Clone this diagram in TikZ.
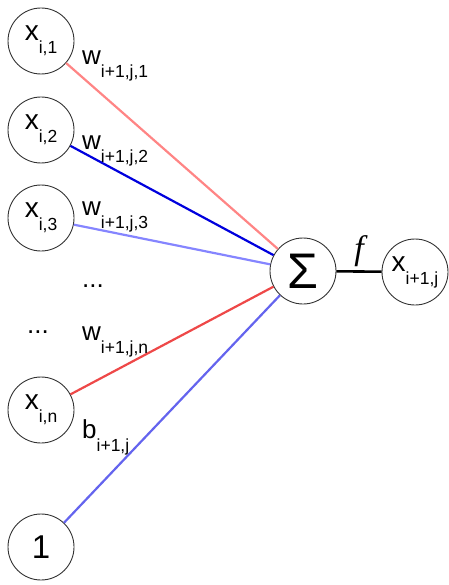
\documentclass[tikz,border=0pt]{standalone}
\usepackage{fontspec}
\setmainfont{Liberation Sans}
\newfontfamily\actfont{Liberation Serif}
\definecolor{wone}{HTML}{FF8585}
\definecolor{wtwo}{HTML}{0000DD}
\definecolor{wthree}{HTML}{8585FF}
\definecolor{wlast}{HTML}{EE4848}
\definecolor{wbias}{HTML}{6464EE}
\newcommand{\lowsub}[1]{\raisebox{-13pt}{\fontsize{17.5}{20}\selectfont #1}}
\begin{document}
\begin{tikzpicture}[x=1pt,y=-1pt,
    neuron/.style={circle,draw=black!80,line width=0.9pt,minimum size=66pt,inner sep=0pt,font=\fontsize{28}{32}\selectfont},
    wlabel/.style={anchor=base west,inner sep=0pt,font=\fontsize{26}{30}\selectfont},
    link/.style={line width=2.2pt}]
    \useasboundingbox (0,0) rectangle (448,585);
    % input column, bias at the bottom
    \node[neuron] (x1) at (41,41) {x\lowsub{i,1}};
    \node[neuron] (x2) at (41,130) {x\lowsub{i,2}};
    \node[neuron] (x3) at (41,218) {x\lowsub{i,3}};
    \node[neuron] (xn) at (41,410) {x\lowsub{i,n}};
    \node[neuron,font=\fontsize{33}{36}\selectfont] (one) at (41,547) {1};
    \node[wlabel] (dotsleft) at (27,333) {...};

    \node[neuron,font=\fontsize{50}{54}\selectfont] (sum) at (303,271) {Σ};
    \node[neuron] (out) at (415,272) {x\lowsub{i+1,j}};

    \foreach \src/\col in {x1/wone, x2/wtwo, x3/wthree, xn/wlast, one/wbias}
    \draw[link,\col] (\src) -- (sum);
    \draw[line width=2.6pt] (sum) -- node[above=3pt,inner sep=0pt,font=\fontsize{34}{36}\actfont\itshape] (act) {f} (out);

    % weight labels --- w1...wn, b
    \node[wlabel] (w1) at (82,65) {w\lowsub{i+1,j,1}};
    \node[wlabel] (w2) at (82,150) {w\lowsub{i+1,j,2}};
    \node[wlabel] (w3) at (82,215) {w\lowsub{i+1,j,3}};
    \node[wlabel] (dotsmid) at (82,287) {...};
    \node[wlabel] (wn) at (82,340) {w\lowsub{i+1,j,n}};
    \node[wlabel] (b) at (82,438) {b\lowsub{i+1,j}};
\end{tikzpicture}
\end{document}
